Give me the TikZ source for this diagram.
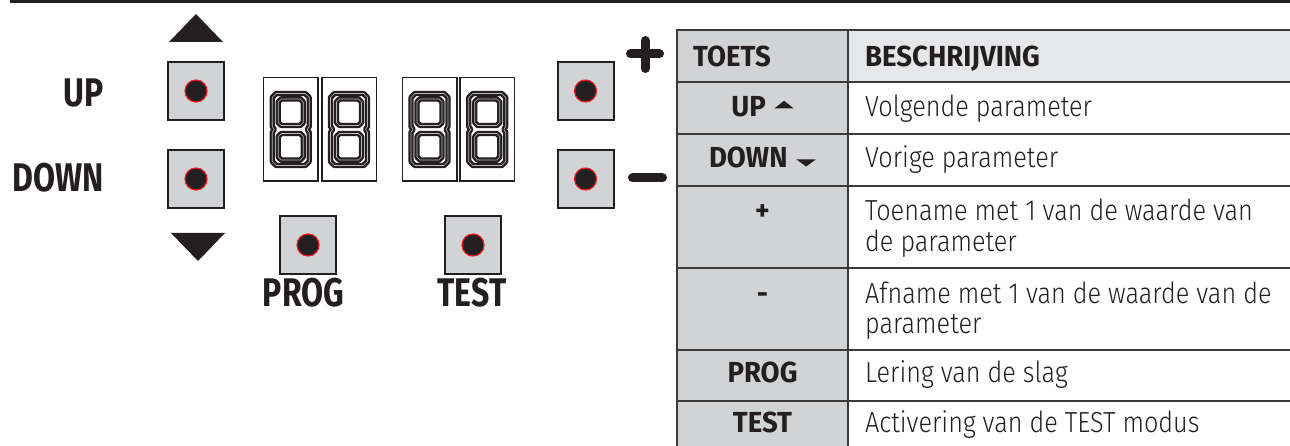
\documentclass[tikz,border=0pt]{standalone}
\usepackage{fontspec}
\newfontfamily\condlight{Fira Sans Light}[FakeStretch=0.87]
\newfontfamily\condbold{Fira Sans Bold}[FakeStretch=0.8]
\newfontfamily\tabbold{Fira Sans Bold}[FakeStretch=0.95]
\usetikzlibrary{positioning}

\definecolor{ink}{HTML}{231F20}
\definecolor{keygray}{HTML}{D1D3D4}
\definecolor{headgray}{HTML}{E6E7E8}
\definecolor{rim}{HTML}{ED1C24}
\definecolor{rule}{HTML}{3A3A3A}

% small arrows inside the table
\newcommand{\triup}{\tikz[baseline]\fill[ink] (0,0.3em) -- (0.66em,0.3em) -- (0.33em,0.56em) -- cycle;}
\newcommand{\tridown}{\tikz[baseline]\fill[ink] (0,0.3em) -- (0.68em,0.3em) -- (0.34em,0.05em) -- cycle;}

\begin{document}
\begin{tikzpicture}[x=1pt, y=-1pt,
    keybox/.style={draw=ink, line width=2pt, fill=keygray, minimum width=56pt, minimum height=58pt, inner sep=0pt},
    keydot/.style={circle, draw=rim, line width=1.2pt, fill=ink, minimum size=22pt, inner sep=0pt},
    digitbox/.style={draw=ink, line width=1.5pt, minimum width=54.5pt, minimum height=103.5pt, inner sep=0pt},
    segline/.style={draw=ink, line width=2.4pt, double=gray!55, double distance=0.6pt, line join=round},
    biglbl/.style={font=\condbold\fontsize{40}{44}\selectfont, text=ink, inner sep=0pt},
    hdr/.style={font=\tabbold\fontsize{29}{33}\selectfont, text=ink, inner sep=0pt, anchor=base west},
    keyname/.style={font=\tabbold\fontsize{29}{33}\selectfont, text=ink, inner sep=0pt, anchor=base},
    desc/.style={font=\condlight\fontsize{29}{33}\selectfont, text=ink, inner sep=0pt, anchor=base west},
]
\useasboundingbox (0,0) rectangle (1290,446);

% Top rule
\draw[ink, line width=3pt] (10,1.5) -- (1290,1.5);

% Arrows
\fill[ink] (169,42) -- (223,42) -- (196,14) -- cycle;
\fill[ink] (171,233) -- (225,233) -- (198,261) -- cycle;

% Keys
\foreach \n/\x/\y in {kUp/196/91, kDown/196/179, kProg/308/245, kTest/473/245, kPlus/585.5/91, kMinus/585.5/179} {
    \node[keybox] (\n) at (\x,\y) {};
    \node[keydot] (dot\n) at (\n) {};
}

% Key labels
\node[biglbl, anchor=base east] (lUp) at (104,107) {UP};
\node[biglbl, anchor=base east] (lDown) at (104,192) {DOWN};
\node[biglbl, anchor=base] (lProg) at (303.5,306) {PROG};
\node[biglbl, anchor=base] (lTest) at (472,306) {TEST};

% Plus and minus
\draw[ink, line width=9pt, line cap=round] (630.5,54) -- (659.5,54) (645,40.5) -- (645,68.5);
\draw[ink, line width=9pt, line cap=round] (632.5,178) -- (662.5,178);

% Display
\foreach \n/\x in {dA/290.75, dB/349, dC/429.5, dD/487.25} {
    \node[digitbox] (\n) at (\x,129.5) {};
    \draw[segline, shift={(\n.center)}]
        (-14.5,-36) -- (14.5,-36) -- (18.5,-32) -- (18.5,-3) -- (16.5,0) -- (18.5,3) -- (18.5,32)
        -- (14.5,36) -- (-14.5,36) -- (-18.5,32) -- (-18.5,3) -- (-16.5,0) -- (-18.5,-3) -- (-18.5,-32) -- cycle
        (-9.5,-30.5) -- (9.5,-30.5) -- (12.5,-27.5) -- (12.5,-7) -- (9.5,-4) -- (-9.5,-4) -- (-12.5,-7) -- (-12.5,-27.5) -- cycle
        (-9.5,4) -- (9.5,4) -- (12.5,7) -- (12.5,27.5) -- (9.5,30.5) -- (-9.5,30.5) -- (-12.5,27.5) -- (-12.5,7) -- cycle;
}

% Table
\fill[keygray] (677,30) rectangle (848,446);
\fill[headgray] (848,30) rectangle (1290,82);
\draw[rule, line width=2.2pt] (677,446) -- (677,30) -- (1290,30);
\draw[rule, line width=2.2pt] (848,30) -- (848,446);
\foreach \y in {82,134,186,268,350,401}
    \draw[rule, line width=2.2pt] (677,\y) -- (1290,\y);

% Header
\node[hdr] (hKey) at (693,66.5) {TOETS};
\node[hdr] (hDesc) at (865,66.5) {BESCHRIJVING};
% Rows
\node[keyname] (tUp) at (762.5,117) {UP\hspace{0.3em}\triup};
\node[desc] (dUp) at (865,117) {Volgende parameter};
\node[keyname] (tDown) at (762.5,168) {DOWN\hspace{0.3em}\tridown};
\node[desc] (dDown) at (865,168) {Vorige parameter};
\node[keyname] (tPlus) at (762.5,221) {+};
\node[desc] (dPlus) at (865,221) {Toename met 1 van de waarde van};
\node[desc] (dPlusB) at (865,252) {de parameter};
\node[keyname] (tMinus) at (762.5,303) {-};
\node[desc] (dMinus) at (865,303) {Afname met 1 van de waarde van de};
\node[desc] (dMinusB) at (865,334) {parameter};
\node[keyname] (tProg) at (762.5,382) {PROG};
\node[desc] (dProg) at (865,382) {Lering van de slag};
\node[keyname] (tTest) at (762.5,432) {TEST};
\node[desc] (dTest) at (865,432) {Activering van de TEST modus};
\end{tikzpicture}
\end{document}
